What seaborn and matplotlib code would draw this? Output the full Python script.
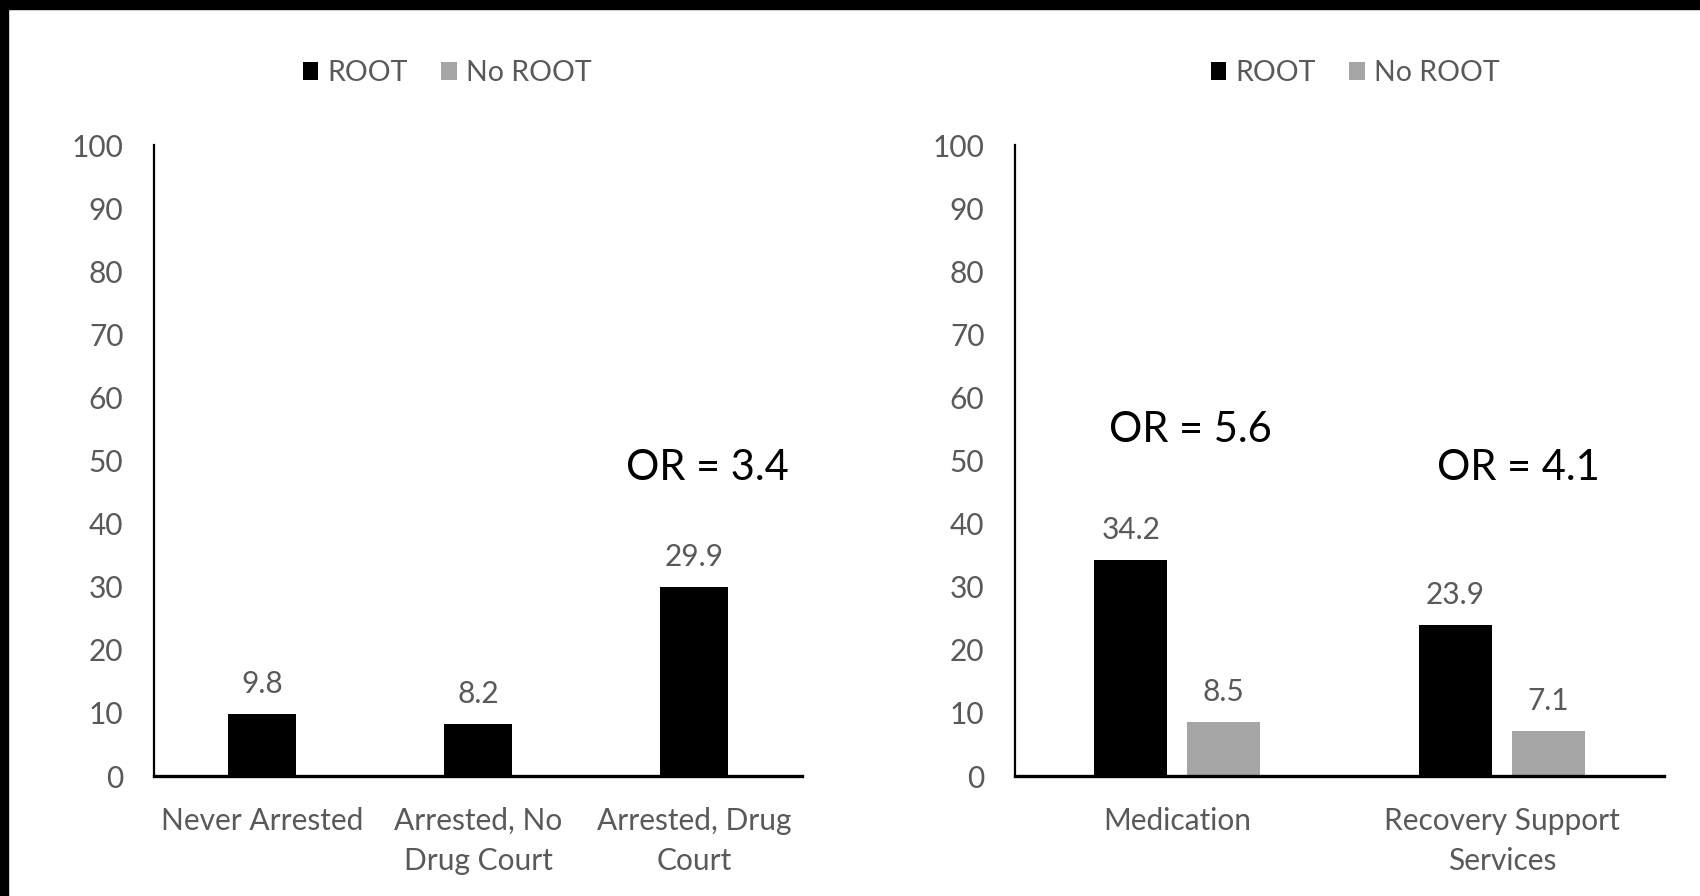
import numpy as np
import pandas as pd
import seaborn as sns
import matplotlib
matplotlib.use("Agg")
import matplotlib.pyplot as plt
from matplotlib.patches import Rectangle, Patch

# ---- data -------------------------------------------------------------
arrest_groups = ["Never Arrested", "Arrested, No\nDrug Court", "Arrested, Drug\nCourt"]
arrest_root = [9.8, 8.2, 29.9]

service_types = ["Medication", "Recovery Support\nServices"]
service_root = [34.2, 23.9]
service_no_root = [8.5, 7.1]

series_names = ["ROOT", "No ROOT"]
series_colors = ["#000000", "#a5a5a5"]

arrest_or_text = ["OR = 3.4"]
arrest_or_pos = [(2.06, 48.8)]
service_or_text = ["OR = 5.6", "OR = 4.1"]
service_or_pos = [(0.04, 54.8), (1.05, 48.8)]

y_ticks = list(range(0, 101, 10))

# ---- style ------------------------------------------------------------
sns.set_style("white")
plt.rcParams["font.family"] = ["Lato", "DejaVu Sans"]
TXT = "#595959"
FS = 21.5

W, H = 1700, 896
fig = plt.figure(figsize=(W / 100, H / 100), dpi=100)
fig.patch.set_facecolor("white")

# black frame strips along the top and left edge
fig.patches.append(Rectangle((0, 1 - 9 / H), 1, 9 / H, transform=fig.transFigure,
                             color="black", zorder=10))
fig.patches.append(Rectangle((0, 0), 8 / W, 1, transform=fig.transFigure,
                             color="black", zorder=10))

bottom_px, top_px = 776, 145
ax1 = fig.add_axes([154 / W, 1 - bottom_px / H, (802 - 154) / W, (bottom_px - top_px) / H])
ax2 = fig.add_axes([1015 / W, 1 - bottom_px / H, (1664 - 1015) / W, (bottom_px - top_px) / H])

# left panel: ROOT share by arrest history
df_arrest = pd.DataFrame({"group": arrest_groups, "pct": arrest_root})
sns.barplot(data=df_arrest, x="group", y="pct", color=series_colors[0],
            saturation=1, width=0.315, ax=ax1, edgecolor="none")

# right panel: ROOT vs no ROOT by service type
df_service = pd.DataFrame({
    "service": service_types * 2,
    "pct": service_root + service_no_root,
    "series": [series_names[0]] * len(service_types) + [series_names[1]] * len(service_types),
})
sns.barplot(data=df_service, x="service", y="pct", hue="series",
            hue_order=series_names, palette=dict(zip(series_names, series_colors)),
            saturation=1, width=0.574, gap=0.22, legend=False, ax=ax2,
            edgecolor="none")

for ax, n in ((ax1, len(arrest_groups)), (ax2, len(service_types))):
    ax.set_xlim(-0.5, n - 0.5)
    ax.set_ylim(0, 100)
    ax.set_yticks(y_ticks)
    ax.set_xlabel("")
    ax.set_ylabel("")
    for s in ("top", "right"):
        ax.spines[s].set_visible(False)
    ax.spines["left"].set_color("black")
    ax.spines["left"].set_linewidth(1.6)
    ax.spines["bottom"].set_color("black")
    ax.spines["bottom"].set_linewidth(2.4)
    ax.tick_params(axis="both", length=0, labelsize=FS, labelcolor=TXT)
    ax.tick_params(axis="y", pad=22)
    ax.tick_params(axis="x", pad=22)
    for lab in ax.get_xticklabels():
        lab.set_linespacing(1.55)
    # value labels above each bar
    for cont in ax.containers:
        for bar in cont:
            h = bar.get_height()
            ax.annotate(f"{h:.1f}", (bar.get_x() + bar.get_width() / 2, h),
                        xytext=(0, 22), textcoords="offset points",
                        ha="center", va="center", fontsize=FS, color=TXT)

for txt, (x, y) in zip(arrest_or_text, arrest_or_pos):
    ax1.text(x, y, txt, ha="center", va="center", fontsize=30, color="black")
for txt, (x, y) in zip(service_or_text, service_or_pos):
    ax2.text(x, y, txt, ha="center", va="center", fontsize=30, color="black")

# legends above each panel
handles = [Patch(facecolor=c, edgecolor="none", label=n)
           for n, c in zip(series_names, series_colors)]
for cx in (447 / W, 1355 / W):
    leg = fig.legend(handles=handles, loc="center", bbox_to_anchor=(cx, 1 - 73 / H),
                     ncol=2, frameon=False, fontsize=20.5, handlelength=0.55,
                     handleheight=0.55, handletextpad=0.3, columnspacing=1.2)
    for t in leg.get_texts():
        t.set_color(TXT)

fig.savefig("out.png", dpi=100, facecolor="white")
